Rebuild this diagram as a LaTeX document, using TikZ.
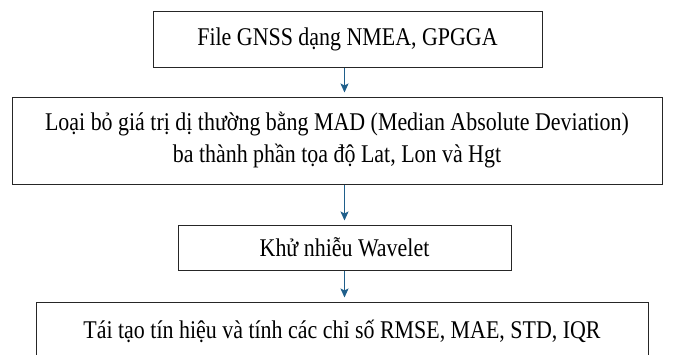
\documentclass[tikz,border=0pt]{standalone}
\usepackage{fontspec}
\setmainfont{Liberation Serif}[FakeStretch=0.86]
\usetikzlibrary{arrows.meta,calc}
\definecolor{flowblue}{HTML}{1F5F8B}

\tikzset{
  stage/.style={draw=black!85, line width=1pt, align=center, inner sep=0pt,
    font=\fontsize{25.5}{32}\selectfont},
  flow/.style={-{Stealth[length=9pt,width=8pt,inset=2pt]}, draw=flowblue,
    line width=1.4pt, shorten >=4pt},
}

\begin{document}
\begin{tikzpicture}[x=1pt,y=-1pt]
	\useasboundingbox (0,0) rectangle (675,354);
	\clip (0,0) rectangle (675,354);
	\node[stage, minimum width=389, minimum height=56] (gnss) at (347.5,39) {File GNSS dạng NMEA, GPGGA};
	\node[stage, minimum width=650, minimum height=87] (mad) at (337,140.5) {Loại bỏ giá trị dị thường bằng MAD (Median Absolute Deviation)\\ba thành phần tọa độ Lat, Lon và Hgt};
	\node[stage, minimum width=333, minimum height=45] (wavelet) at (344.5,247.5) {Khử nhiễu Wavelet};
	\node[stage, minimum width=612, minimum height=58] (metrics) at (342,331) {Tái tạo tín hiệu và tính các chỉ số RMSE, MAE, STD, IQR};
	\foreach \a/\b in {gnss/mad, mad/wavelet, wavelet/metrics}
		\draw[flow] (\a.south -| wavelet.north) -- (\b.north -| wavelet.north);
\end{tikzpicture}
\end{document}
